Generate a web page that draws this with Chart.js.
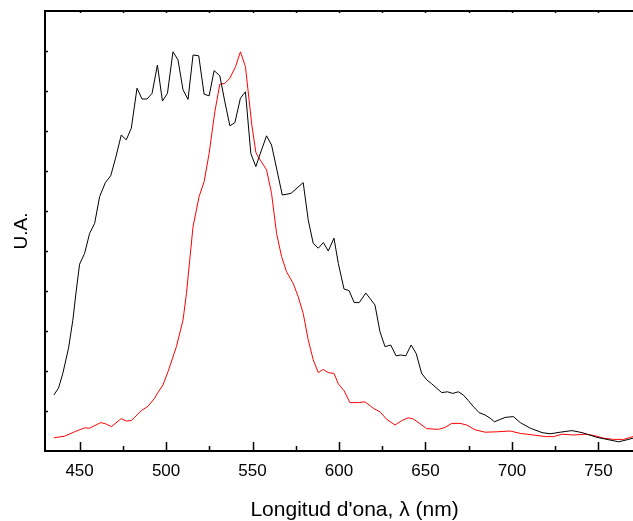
<!DOCTYPE html>
<html lang="ca">
<head>
    <meta charset="UTF-8">
    <title>Espectres</title>
    <script src="https://cdn.jsdelivr.net/npm/chart.js"></script>
    <style>
        html, body { margin: 0; padding: 0; background: #fff; }
        #wrap { width: 633px; height: 521px; }
    </style>
</head>
<body>
    <div id="wrap"><canvas id="chart"></canvas></div>

    <script>
        // wavelength (nm) and intensity (arbitrary units)
        const blackX = [435.1, 437.8, 440.3, 443.6, 446.1, 448.1, 450, 452.9, 455.8, 458.7, 461.6, 464.9, 468, 470.8, 474.1, 477, 479.9, 483.2, 486.1, 489, 491.9, 495, 497.9, 500.8, 504, 506.9, 509.8, 512.7, 515.6, 518.9, 522, 524.9, 527.8, 531.1, 534, 536.9, 539.8, 543, 545.9, 549, 551.9, 554.2, 558.1, 561, 567.2, 572.2, 579.3, 582.2, 585.1, 588, 591, 593.8, 597.1, 599.6, 602.9, 605.8, 608.8, 611.7, 615.5, 620.8, 623.7, 626.6, 629.9, 633, 635.7, 638.6, 641.7, 644.6, 647.8, 650.7, 653.6, 656.5, 659.4, 662.7, 665.8, 669, 671.9, 674.8, 677.7, 681, 684.5, 687.4, 689.9, 693.2, 696.1, 700.9, 704.8, 710.6, 717.4, 722.1, 727.9, 734.7, 740.5, 749.2, 755, 761.7, 766.5, 770];
        const blackY = [1.40, 1.57, 1.94, 2.57, 3.27, 4.02, 4.67, 4.94, 5.44, 5.69, 6.36, 6.71, 6.88, 7.32, 7.90, 7.78, 8.07, 9.07, 8.80, 8.80, 8.94, 9.65, 8.75, 8.94, 9.98, 9.78, 9.03, 8.79, 9.90, 9.88, 8.92, 8.88, 9.51, 9.38, 8.73, 8.13, 8.21, 8.82, 8.98, 7.44, 7.11, 7.40, 7.88, 7.65, 6.40, 6.44, 6.71, 5.78, 5.19, 5.07, 5.21, 5.00, 5.32, 4.69, 4.05, 4.01, 3.71, 3.71, 3.95, 3.65, 2.98, 2.61, 2.65, 2.38, 2.40, 2.38, 2.65, 2.44, 1.94, 1.78, 1.68, 1.57, 1.46, 1.48, 1.44, 1.48, 1.40, 1.26, 1.11, 0.96, 0.90, 0.82, 0.73, 0.79, 0.84, 0.86, 0.71, 0.57, 0.46, 0.43, 0.47, 0.51, 0.46, 0.34, 0.29, 0.23, 0.28, 0.32];

        const redX = [435.1, 441.3, 447.1, 452.9, 455.8, 462.2, 465, 468.4, 474.1, 477, 479.9, 485.7, 489.6, 493.4, 494.4, 498.2, 501.1, 506, 509.8, 511.8, 513.7, 515.6, 519.1, 522, 524.9, 528.2, 531.1, 534, 536.9, 540.2, 543, 545.9, 549.6, 551.9, 553.2, 558.1, 561, 563.9, 566.8, 569.7, 573.5, 576.4, 579.3, 582.2, 585.1, 588, 590.9, 593.8, 597.1, 599.6, 602.9, 606.3, 611.1, 615, 619.8, 623.7, 627.6, 632.4, 636.3, 640.1, 643, 646.9, 650.7, 657.5, 661.3, 665.2, 670, 673.9, 678.7, 684.5, 691.3, 699, 704.8, 712.5, 719.3, 724.1, 728.9, 735.7, 743.4, 748.2, 753, 758.8, 764.6, 770];
        const redY = [0.33, 0.37, 0.48, 0.58, 0.57, 0.71, 0.68, 0.61, 0.81, 0.75, 0.76, 1.01, 1.12, 1.32, 1.40, 1.65, 1.98, 2.61, 3.27, 3.94, 4.78, 5.61, 6.36, 6.73, 7.44, 8.48, 9.17, 9.19, 9.32, 9.61, 9.98, 9.61, 8.15, 7.47, 7.36, 7.03, 6.44, 5.44, 4.86, 4.48, 4.19, 3.86, 3.44, 2.78, 2.28, 1.96, 2.04, 1.96, 1.94, 1.68, 1.51, 1.21, 1.21, 1.23, 1.07, 0.98, 0.79, 0.65, 0.76, 0.83, 0.80, 0.68, 0.56, 0.54, 0.59, 0.69, 0.69, 0.65, 0.53, 0.47, 0.48, 0.50, 0.44, 0.40, 0.36, 0.36, 0.42, 0.40, 0.42, 0.38, 0.32, 0.29, 0.29, 0.36];

        const xMajorTicks = [450, 500, 550, 600, 650, 700, 750];
        const xMinorTicks = [475, 525, 575, 625, 675, 725];
        const yTicks = [1, 2, 3, 4, 5, 6, 7, 8, 9, 10];
        const xTitle = "Longitud d'ona, λ (nm)";

        const font = "'Liberation Sans', Arial, sans-serif";

        const toPoints = (xs, ys) => xs.map((x, i) => ({ x: x, y: ys[i] }));

        // inward tick marks, top frame line and the x title
        // (the original plot ran past the right edge, so its title sits right of centre)
        const frame = {
            id: 'frame',
            afterDraw(chart) {
                const { ctx, chartArea: a, scales: { x, y } } = chart;
                ctx.save();
                ctx.strokeStyle = '#000';
                ctx.lineWidth = 2;
                ctx.beginPath();
                ctx.moveTo(a.left - 1, a.top);
                ctx.lineTo(a.right, a.top);
                ctx.stroke();

                ctx.lineWidth = 1.5;
                ctx.beginPath();
                xMajorTicks.forEach(v => {
                    const px = Math.round(x.getPixelForValue(v)) + 0.5;
                    ctx.moveTo(px, a.bottom); ctx.lineTo(px, a.bottom - 9);
                    ctx.moveTo(px, a.top); ctx.lineTo(px, a.top + 2);
                });
                xMinorTicks.forEach(v => {
                    const px = Math.round(x.getPixelForValue(v)) + 0.5;
                    ctx.moveTo(px, a.bottom); ctx.lineTo(px, a.bottom - 5);
                    ctx.moveTo(px, a.top); ctx.lineTo(px, a.top + 2);
                });
                yTicks.forEach(v => {
                    const py = Math.round(y.getPixelForValue(v)) + 0.5;
                    ctx.moveTo(a.left, py); ctx.lineTo(a.left + 3, py);
                });
                ctx.stroke();

                ctx.fillStyle = '#000';
                ctx.font = '21px ' + font;
                ctx.textAlign = 'center';
                ctx.textBaseline = 'middle';
                ctx.fillText(xTitle, x.getPixelForValue(609), 510);
                ctx.restore();
            }
        };

        new Chart(document.getElementById('chart'), {
            type: 'line',
            data: {
                datasets: [
                    {
                        data: toPoints(blackX, blackY),
                        borderColor: '#000',
                        borderWidth: 1,
                        pointRadius: 0,
                        tension: 0,
                        fill: false
                    },
                    {
                        data: toPoints(redX, redY),
                        borderColor: '#ff0000',
                        borderWidth: 1,
                        pointRadius: 0,
                        tension: 0,
                        fill: false
                    }
                ]
            },
            options: {
                responsive: true,
                maintainAspectRatio: false,
                animation: false,
                layout: { padding: { top: 11, right: 0, left: 0, bottom: 0 } },
                plugins: { legend: { display: false }, tooltip: { enabled: false } },
                scales: {
                    x: {
                        type: 'linear',
                        min: 430,
                        max: 770,
                        grid: { display: false, drawTicks: false },
                        border: { display: true, color: '#000', width: 2 },
                        ticks: {
                            stepSize: 50,
                            includeBounds: false,
                            padding: 10,
                            color: '#000',
                            font: { family: font, size: 17 }
                        },
                        afterFit(scale) { scale.height = 70; }
                    },
                    y: {
                        min: 0,
                        max: 11,
                        grid: { display: false, drawTicks: false },
                        border: { display: true, color: '#000', width: 2 },
                        ticks: { display: false, stepSize: 1 },
                        title: {
                            display: true,
                            text: 'U.A.',
                            color: '#000',
                            font: { family: font, size: 19 },
                            padding: { top: 10, bottom: 0 }
                        },
                        afterFit(scale) { scale.width = 45; }
                    }
                }
            },
            plugins: [frame]
        });
    </script>
</body>
</html>
